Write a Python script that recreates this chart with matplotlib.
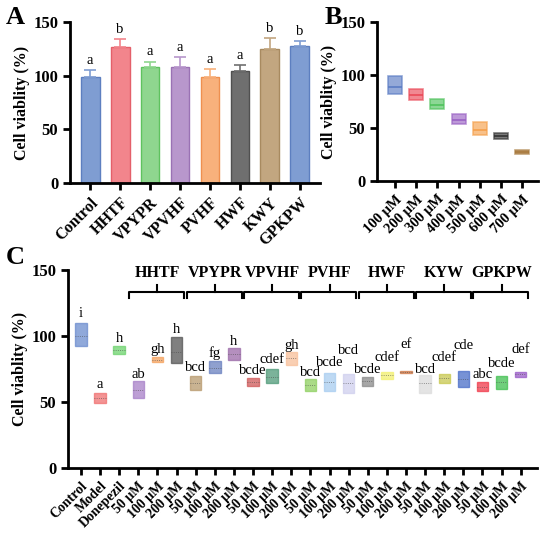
"""Cell viability panels A/B/C (bar + floating bars)"""
import matplotlib
matplotlib.use('Agg')
import matplotlib.pyplot as plt
import numpy as np

plt.rcParams['font.family'] = ['Liberation Serif', 'DejaVu Serif']

# ---- panel A data ----
cats_a = ['Control', 'HHTF', 'VPYPR', 'VPVHF', 'PVHF', 'HWF', 'KWY', 'GPKPW']
mean_a = [99, 127, 108, 108, 99, 104, 125, 128]
err_a = [6, 7, 5, 9, 7, 6, 10, 4]
letters_a = ['a', 'b', 'a', 'a', 'a', 'a', 'b', 'b']
colors_a = ['#7f9dd2', '#f2858c', '#8fd68f', '#b897cc', '#f8b17c',
            '#6f6f6f', '#c2a680', '#7f9dd2']
edges_a = ['#5d7fc0', '#e4606a', '#5fc25f', '#9a72b4', '#ee9050',
           '#505050', '#a88a60', '#5d7fc0']

# ---- panel B data ----
cats_b = ['100 μM', '200 μM', '300 μM', '400 μM', '500 μM', '600 μM', '700 μM']
lo_b = [82, 76, 68, 54, 43, 40, 25]
hi_b = [99, 86.5, 77.5, 63, 56, 45, 29]
mean_b = [89, 81, 72, 58, 48, 42, 27]
colors_b = ['#5b7cc4', '#ea4a58', '#4fc25c', '#9a62c4', '#f5a04c',
            '#333333', '#a6773a']

# ---- panel C data ----
groups_c = ['HHTF', 'VPYPR', 'VPVHF', 'PVHF', 'HWF', 'KYW', 'GPKPW']
doses_c = ['50 μM', '100 μM', '200 μM']
cats_c = ['Control', 'Model', 'Donepezil'] + doses_c * len(groups_c)
lo_c = [92, 49, 86, 53, 80, 79.5, 59, 72, 82, 62, 64.4, 78,
        58.5, 58, 57, 62, 67, 71.8, 57, 64, 61, 58, 60, 69]
hi_c = [110, 57, 92, 66, 84, 99, 69.5, 81, 90.5, 68, 74.6, 87.5,
        67, 72, 71, 69, 72.6, 73.3, 70.5, 71, 73, 65, 69.5, 72.6]
mean_c = [100, 53, 89, 59, 82, 88, 64, 76, 86, 65, 69, 83,
          63, 65, 64, 65.5, 70, 72.5, 64, 68, 67, 61, 65, 71]
letters_c = ['i', 'a', 'h', 'ab', 'gh', 'h', 'bcd', 'fg', 'h', 'bcde', 'cdef', 'gh',
             'bcd', 'bcde', 'bcd', 'bcde', 'cdef', 'ef', 'bcd', 'cdef', 'cde',
             'abc', 'bcde', 'def']
label_y_c = [117, 63, 97.7, 71, 90, 104.6, 76, 86.7, 96, 74, 82, 93,
             72, 79.5, 89, 74.6, 83.6, 93.6, 74.6, 83.6, 93, 71, 79, 90]
colors_c = ['#6b8cce', '#f07070', '#6ed36e', '#a77fc8', '#f5a25d', '#555555',
            '#b89a6e', '#6a80c0', '#9b6aa8', '#d05a5a', '#4f9a78', '#f8c09a',
            '#8fd060', '#a8cdf0', '#cfcfee', '#8a8a8a', '#f2f070', '#d07a4a',
            '#dcdcdc', '#c8c850', '#4a6ec8', '#f03a4a', '#40c050', '#9a5cc8']

yticks = [0, 50, 100, 150]


def style_axes(ax, labels, xlim, fs=11):
    for s in ['top', 'right']:
        ax.spines[s].set_visible(False)
    for s in ['left', 'bottom']:
        ax.spines[s].set_linewidth(2)
    ax.tick_params(width=2, length=5, direction='out')
    ax.set_ylim(0, 150)
    ax.set_yticks(yticks)
    ax.set_xlim(*xlim)
    ax.set_xticks(np.arange(len(labels)))
    ax.set_xticklabels(labels, rotation=45, ha='right', rotation_mode='anchor',
                       fontweight='bold', fontsize=fs)
    for t in ax.get_yticklabels():
        t.set_fontweight('bold')
        t.set_fontsize(12)
    ax.set_ylabel('Cell viablity (%)', fontweight='bold', fontsize=11.5, labelpad=2)


fig = plt.figure(figsize=(5.5, 5.39), dpi=100)

# ---------- A ----------
axA = fig.add_axes([0.1273, 0.6605, 0.4545, 0.2987])
xa = np.arange(len(cats_a))
axA.bar(xa, mean_a, width=0.63, color=colors_a, edgecolor=edges_a, linewidth=1)
for i in range(len(cats_a)):
    axA.errorbar(xa[i], mean_a[i], yerr=[[0], [err_a[i]]], fmt='none',
                 ecolor=colors_a[i], elinewidth=1.2, capsize=4, capthick=1.2)
    axA.text(xa[i], mean_a[i] + err_a[i] + 3, letters_a[i], ha='center',
             va='bottom', fontsize=10.5)
style_axes(axA, cats_a, (-0.67, 7.67), fs=11.5)

# ---------- B ----------
axB = fig.add_axes([0.6855, 0.6642, 0.2927, 0.295])
xb = np.arange(len(cats_b))
for i in range(len(cats_b)):
    axB.bar(xb[i], hi_b[i] - lo_b[i], bottom=lo_b[i], width=0.66,
            color=colors_b[i], alpha=0.65, edgecolor=colors_b[i], linewidth=1.2)
    axB.hlines(mean_b[i], xb[i] - 0.33, xb[i] + 0.33, color=colors_b[i], lw=1.2)
style_axes(axB, cats_b, (-0.85, 6.75), fs=10.5)

# ---------- C ----------
axC = fig.add_axes([0.1236, 0.1323, 0.8527, 0.3668])
xc = np.arange(len(cats_c))
for i in range(len(cats_c)):
    axC.bar(xc[i], hi_c[i] - lo_c[i], bottom=lo_c[i], width=0.6,
            color=colors_c[i], alpha=0.75, edgecolor=colors_c[i], linewidth=1)
    axC.hlines(mean_c[i], xc[i] - 0.3, xc[i] + 0.3, color='#444444',
               lw=0.6, linestyles=':', alpha=0.7)
    axC.text(xc[i], label_y_c[i], letters_c[i], ha='center', va='center',
             fontsize=10.5)
style_axes(axC, cats_c, (-0.68, 23.85), fs=10)

for g, name in enumerate(groups_c):
    c = 4 + 3 * g
    axC.plot([c - 1.47, c - 1.47, c + 1.4, c + 1.4], [129, 133, 133, 129],
             color='black', lw=1.5, clip_on=False)
    axC.plot([c, c], [133, 138.5], color='black', lw=1.5, clip_on=False)
    axC.text(c, 148, name, ha='center', va='center', fontweight='bold',
             fontsize=11.5, clip_on=False)

# panel letters
fig.text(15 / 550, 1 - 18 / 539, 'A', fontsize=19, fontweight='bold',
         ha='center', va='center')
fig.text(333 / 550, 1 - 18 / 539, 'B', fontsize=19, fontweight='bold',
         ha='center', va='center')
fig.text(15 / 550, 1 - 258 / 539, 'C', fontsize=19, fontweight='bold',
         ha='center', va='center')

fig.savefig('out.png', dpi=100)
